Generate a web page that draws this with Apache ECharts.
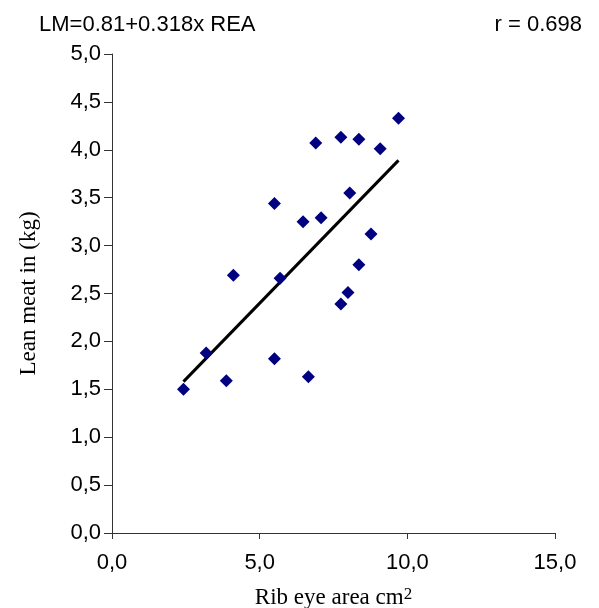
<!DOCTYPE html>
<html>
<head>
<meta charset="utf-8">
<script src="https://cdn.jsdelivr.net/npm/echarts@6/dist/echarts.min.js"></script>
<style>html,body{margin:0;padding:0;background:#fff;}#c{width:599px;height:608px;}</style>
</head>
<body>
<div id="c"></div>
<script>
// Rib eye area (cm2) and lean meat (kg)
var reaValues  = [9.70, 6.90, 7.75, 8.36, 9.08, 8.05, 6.47, 7.08, 8.77, 8.36, 7.99, 7.75, 5.50, 4.11, 5.69, 3.19, 5.50, 3.87, 6.65, 2.42];
var leanValues = [4.33, 4.07, 4.13, 4.11, 4.01, 3.55, 3.25, 3.29, 3.12, 2.80, 2.51, 2.39, 3.44, 2.69, 2.66, 1.88, 1.82, 1.59, 1.63, 1.50];
// regression line end points
var trendX = [2.42, 9.70];
var trendY = [1.58, 3.89];
var xTicks = [0, 5, 10, 15];
var yTicks = [0, 0.5, 1, 1.5, 2, 2.5, 3, 3.5, 4, 4.5, 5];
var equationText = 'LM=0.81+0.318x REA';
var rText = 'r = 0.698';

var pts = reaValues.map(function (x, i) { return [x, leanValues[i]]; });
var line = trendX.map(function (x, i) { return [x, trendY[i]]; });
var comma = function (v) { return v.toFixed(1).replace('.', ','); };
var sans = 'Liberation Sans, Arial, sans-serif';
var serif = 'Liberation Serif, Times New Roman, serif';

var chart = echarts.init(document.getElementById('c'));
chart.setOption({
  animation: false,
  backgroundColor: '#fff',
  title: [
    { text: equationText, left: 34, top: 9, textStyle: { fontFamily: sans, fontSize: 22, fontWeight: 'normal', color: '#000' } },
    { text: rText, right: 12, top: 9, textStyle: { fontFamily: sans, fontSize: 22, fontWeight: 'normal', color: '#000' } }
  ],
  grid: { left: 112, right: 44, top: 54, bottom: 75, containLabel: false, outerBoundsMode: 'none' },
  xAxis: {
    type: 'value', min: xTicks[0], max: xTicks[xTicks.length - 1], interval: 5,
    splitLine: { show: false },
    axisLine: { lineStyle: { color: '#333', width: 1 } },
    axisTick: { show: true, length: 6, lineStyle: { color: '#333' } },
    axisLabel: { fontFamily: sans, fontSize: 22, color: '#000', margin: 19, formatter: comma },
    name: '{a|Rib eye area cm}{b|2}',
    nameLocation: 'middle', nameGap: 53,
    nameTextStyle: {
      rich: {
        a: { fontFamily: serif, fontSize: 23, color: '#000', lineHeight: 24 },
        b: { fontFamily: serif, fontSize: 17, color: '#000', verticalAlign: 'top', lineHeight: 24 }
      }
    }
  },
  yAxis: {
    type: 'value', min: yTicks[0], max: yTicks[yTicks.length - 1], interval: 0.5,
    splitLine: { show: false },
    axisLine: { show: true, lineStyle: { color: '#333', width: 1 } },
    axisTick: { show: true, length: 8, lineStyle: { color: '#333' } },
    axisLabel: { fontFamily: sans, fontSize: 22, color: '#000', margin: 11, formatter: comma },
    name: 'Lean meat in (kg)', nameLocation: 'middle', nameGap: 72, nameRotate: 90,
    nameTextStyle: { fontFamily: serif, fontSize: 23, color: '#000' }
  },
  series: [
    { type: 'line', data: line, symbol: 'none', lineStyle: { color: '#000', width: 3 }, z: 2 },
    { type: 'scatter', data: pts, symbol: 'diamond', symbolSize: 13, itemStyle: { color: '#000080', opacity: 1 }, z: 3 }
  ]
});
</script>
</body>
</html>
